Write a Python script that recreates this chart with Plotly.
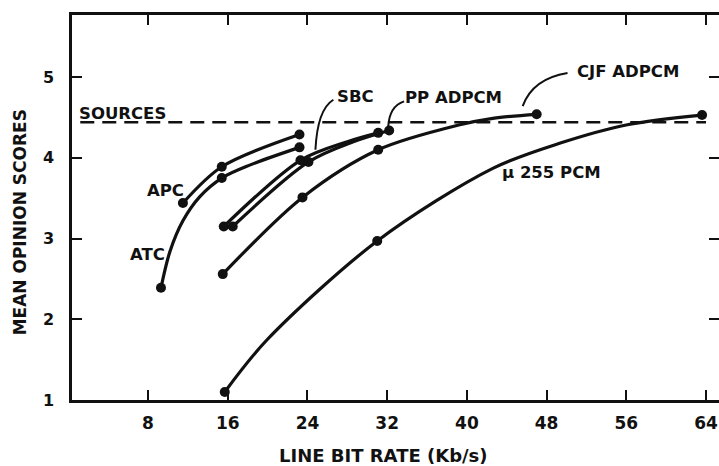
import plotly.graph_objects as go

# ---- data ----
SOURCES_MOS = 4.44

apc_curve_x = [11.5, 15.4, 23.2]
apc_curve_y = [3.44, 3.89, 4.29]
apc_pts_x = [11.5, 15.4, 23.2]
apc_pts_y = [3.44, 3.89, 4.29]

atc_curve_x = [9.3, 10.2, 11.5, 13.2, 15.4, 18.2, 23.2]
atc_curve_y = [2.39, 2.84, 3.22, 3.52, 3.75, 3.91, 4.13]
atc_pts_x = [9.3, 15.4, 23.2]
atc_pts_y = [2.39, 3.75, 4.13]

sbc_curve_x = [15.6, 23.3, 28.0, 31.1]
sbc_curve_y = [3.15, 3.97, 4.20, 4.31]
sbc_pts_x = [15.6, 23.3, 31.1]
sbc_pts_y = [3.15, 3.97, 4.31]

pp_curve_x = [16.5, 24.1, 28.6, 32.2]
pp_curve_y = [3.15, 3.95, 4.20, 4.34]
pp_pts_x = [16.5, 24.1, 32.2]
pp_pts_y = [3.15, 3.95, 4.34]

cjf_curve_x = [15.5, 23.5, 31.1, 39.3, 42.6, 47.0]
cjf_curve_y = [2.56, 3.51, 4.10, 4.41, 4.49, 4.54]
cjf_pts_x = [15.5, 23.5, 31.1, 47.0]
cjf_pts_y = [2.56, 3.51, 4.10, 4.54]

pcm_curve_x = [15.7, 19.9, 31.0, 42.6, 49.3, 56.1, 63.6]
pcm_curve_y = [1.10, 1.74, 2.97, 3.87, 4.18, 4.41, 4.53]
pcm_pts_x = [15.7, 31.0, 63.6]
pcm_pts_y = [1.10, 2.97, 4.53]

x_ticks = [8, 16, 24, 32, 40, 48, 56, 64]
y_ticks = [1, 2, 3, 4, 5]

INK = "#111111"
FONT = "DejaVu Sans"

fig = go.Figure()

# sources reference line
fig.add_trace(go.Scatter(x=[1.2, 64.0], y=[SOURCES_MOS, SOURCES_MOS], mode="lines",
                         line=dict(color=INK, width=2.5, dash="14px,8px"),
                         hoverinfo="skip", showlegend=False))

series = [
    (apc_curve_x, apc_curve_y, apc_pts_x, apc_pts_y),
    (atc_curve_x, atc_curve_y, atc_pts_x, atc_pts_y),
    (sbc_curve_x, sbc_curve_y, sbc_pts_x, sbc_pts_y),
    (pp_curve_x, pp_curve_y, pp_pts_x, pp_pts_y),
    (cjf_curve_x, cjf_curve_y, cjf_pts_x, cjf_pts_y),
    (pcm_curve_x, pcm_curve_y, pcm_pts_x, pcm_pts_y),
]
for cx, cy, px, py in series:
    fig.add_trace(go.Scatter(x=cx, y=cy, mode="lines",
                             line=dict(color=INK, width=3.2, shape="spline", smoothing=0.9),
                             showlegend=False, cliponaxis=False))
    fig.add_trace(go.Scatter(x=px, y=py, mode="markers",
                             marker=dict(color=INK, size=10),
                             showlegend=False, cliponaxis=False))

tf = dict(family=FONT, size=16.5, color=INK, weight="bold")

labels = [
    ("SOURCES", 5.4, 4.55),
    ("APC", 9.8, 3.59),
    ("ATC", 7.9, 2.80),
    ("SBC", 28.8, 4.76),
    ("PP ADPCM", 38.7, 4.75),
    ("CJF ADPCM", 56.2, 5.07),
    ("\u03bc 255 PCM", 48.5, 3.82),
]
for t, x, y in labels:
    fig.add_annotation(x=x, y=y, text=t, showarrow=False, font=tf)

# curved leader lines (tail, control, tip) in data units
leaders = [
    ((26.6, 4.72), (25.0, 4.60), (24.8, 4.10)),
    ((33.7, 4.70), (32.2, 4.64), (32.1, 4.38)),
    ((50.1, 5.05), (46.6, 4.98), (45.6, 4.64)),
]
for (x0, y0), (xc, yc), (x1, y1) in leaders:
    fig.add_shape(type="path", xref="x", yref="y",
                  path=f"M {x0},{y0} Q {xc},{yc} {x1},{y1}",
                  line=dict(color=INK, width=2))

# axis titles
fig.add_annotation(xref="paper", yref="paper", x=0.482, y=-0.143, text="LINE BIT RATE (Kb/s)",
                   xanchor="center", yanchor="middle", showarrow=False,
                   font=dict(family=FONT, size=18, color=INK, weight="bold"))
fig.add_annotation(xref="paper", yref="paper", x=-0.080, y=0.462, text="MEAN OPINION SCORES",
                   xanchor="center", yanchor="middle", showarrow=False,
                   font=dict(family=FONT, size=17, color=INK, weight="bold"),
                   textangle=-90)

fig.update_layout(
    width=719, height=466,
    margin=dict(l=72, r=0, t=15, b=66),
    paper_bgcolor="white", plot_bgcolor="white",
    xaxis=dict(range=[0.37, 65.3], tickvals=x_ticks, ticks="inside", ticklen=10, tickwidth=2,
               tickcolor=INK, showline=True, linewidth=2.5, linecolor=INK, mirror="ticks",
               showgrid=False, zeroline=False,
               tickfont=dict(family=FONT, size=17, color=INK, weight="bold"),
               ticklabelstandoff=6),
    yaxis=dict(range=[1, 5.77], tickvals=y_ticks, ticks="inside", ticklen=10, tickwidth=2,
               tickcolor=INK, showline=True, linewidth=2.5, linecolor=INK, mirror=False,
               showgrid=False, zeroline=False,
               tickfont=dict(family=FONT, size=16, color=INK, weight="bold"),
               ticklabelstandoff=12),
    yaxis2=dict(range=[1, 5.77], tickvals=y_ticks[1:], ticks="inside", ticklen=10, tickwidth=2,
                tickcolor=INK, overlaying="y", side="right", anchor="x", showline=False,
                showticklabels=False, showgrid=False, zeroline=False),
)
# empty trace to activate yaxis2
fig.add_trace(go.Scatter(x=[None], y=[None], yaxis="y2", showlegend=False, hoverinfo="skip"))

fig.write_html("out.html")
